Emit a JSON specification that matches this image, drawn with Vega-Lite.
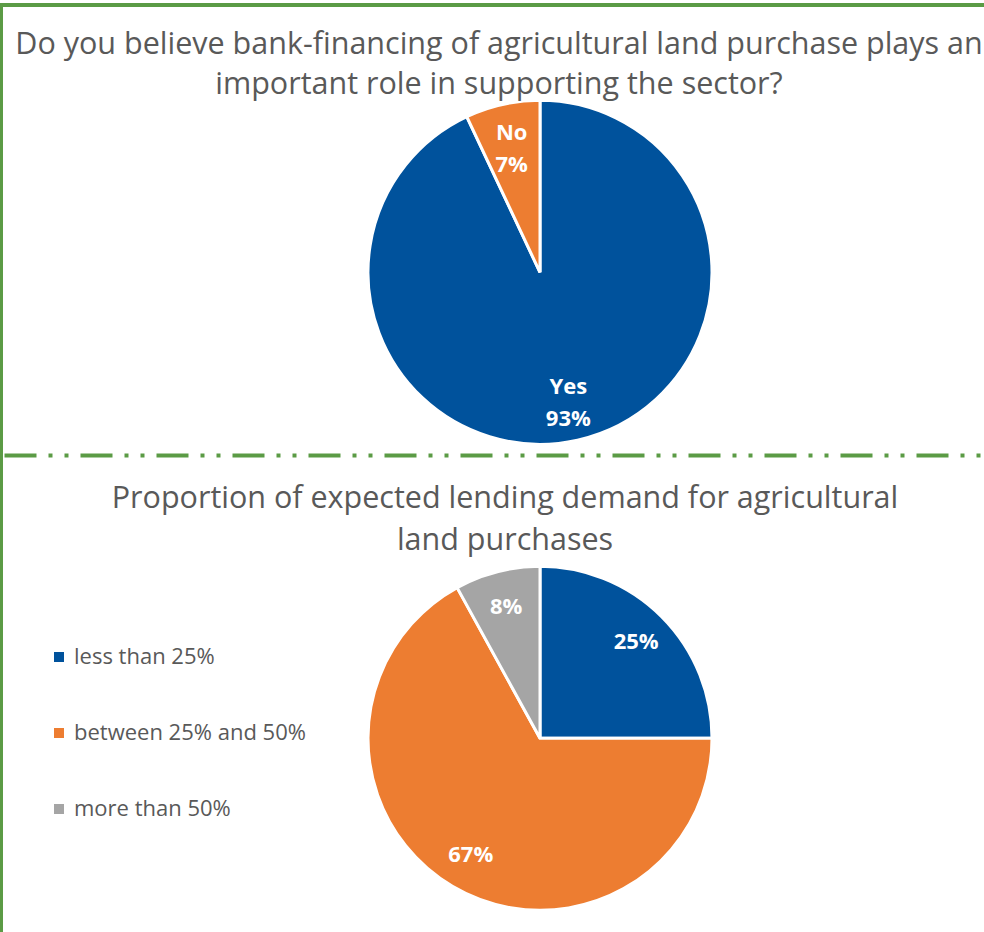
{
  "$schema": "https://vega.github.io/schema/vega-lite/v6.json",
  "width": 1078,
  "height": 960,
  "autosize": {"type": "none"},
  "padding": {"left": 1, "top": 5, "right": 0, "bottom": 0},
  "background": "white",
  "config": {
    "font": "Open Sans",
    "view": {"stroke": "#5B9B45", "strokeWidth": 4}
  },
  "layer": [
    {
      "data": {
        "values": [
          {"question": "Q1", "answer": "Yes", "value": 93, "rank": 1, "label": ["Yes", "93%"]},
          {"question": "Q1", "answer": "No", "value": 7, "rank": 2, "label": ["No", "7%"]},
          {"question": "Q2", "answer": "less than 25%", "value": 25, "rank": 1, "label": "25%"},
          {"question": "Q2", "answer": "between 25% and 50%", "value": 67, "rank": 2, "label": "67%"},
          {"question": "Q2", "answer": "more than 50%", "value": 8, "rank": 3, "label": "8%"}
        ]
      },
      "encoding": {
        "theta": {"field": "value", "type": "quantitative", "stack": true},
        "order": {"field": "rank", "type": "quantitative"},
        "y": {
          "field": "question",
          "type": "nominal",
          "bandPosition": 0.608,
          "scale": {"type": "band", "domain": ["Q1", "Q2"], "range": [-16, 916], "paddingInner": 0, "paddingOuter": 0},
          "axis": {
            "title": null,
            "labels": false,
            "ticks": false,
            "domain": false,
            "grid": true,
            "bandPosition": 0,
            "gridColor": "#5B9B45",
            "gridWidth": 4,
            "gridOpacity": 1,
            "gridDash": [32, 12, 4, 12, 4, 12],
            "gridDashOffset": 73
          }
        }
      },
      "layer": [
        {
          "mark": {"type": "arc", "stroke": "white", "strokeWidth": 3},
          "encoding": {
            "radius": {"field": "question", "type": "nominal", "scale": {"type": "point", "domain": ["Q1", "Q2"], "range": [172, 172]}},
            "radius2": {"value": 0},
            "color": {
              "field": "answer",
              "type": "nominal",
              "scale": {
                "domain": ["Yes", "No", "less than 25%", "between 25% and 50%", "more than 50%"],
                "range": ["#00529C", "#ED7D31", "#00529C", "#ED7D31", "#A5A5A5"]
              },
              "legend": {
                "title": null,
                "orient": "none",
                "legendX": 47,
                "legendY": 641,
                "values": ["less than 25%", "between 25% and 50%", "more than 50%"],
                "labelFont": "Open Sans",
                "labelFontSize": 22,
                "labelColor": "#595959",
                "labelLimit": 400,
                "symbolType": "square",
                "symbolSize": 100,
                "symbolStrokeWidth": 0,
                "rowPadding": 54,
                "labelOffset": 4
              }
            }
          }
        },
        {
          "transform": [{"filter": "datum.question === 'Q1'"}],
          "mark": {"type": "text", "color": "white", "fontWeight": "bold", "fontSize": 22, "lineHeight": 32, "baseline": "middle", "align": "center", "dy": -12},
          "encoding": {
            "radius": {"field": "question", "type": "nominal", "scale": {"type": "point", "domain": ["Q1", "Q2"], "range": [130, 130]}},
            "text": {"field": "label"}
          }
        },
        {
          "transform": [{"filter": "datum.question === 'Q2'"}],
          "mark": {"type": "text", "color": "white", "fontWeight": "bold", "fontSize": 22, "baseline": "middle", "align": "center"},
          "encoding": {
            "radius": {"field": "question", "type": "nominal", "scale": {"type": "point", "domain": ["Q1", "Q2"], "range": [136, 136]}},
            "text": {"field": "label"}
          }
        }
      ],
      "resolve": {"scale": {"radius": "independent"}}
    },
    {
      "data": {"values": [{"question": "Q1", "title": ["Do you believe bank-financing of agricultural land purchase plays an", "important role in supporting the sector?"]}]},
      "mark": {"type": "text", "fontSize": 30.5, "color": "#595959", "lineHeight": 40, "baseline": "alphabetic", "align": "center", "dx": -41, "dy": 65},
      "encoding": {
        "y": {"field": "question", "type": "nominal", "bandPosition": 0},
        "text": {"field": "title"}
      }
    },
    {
      "data": {"values": [{"question": "Q2", "title": ["Proportion of expected lending demand for agricultural", "land purchases"]}]},
      "mark": {"type": "text", "fontSize": 30.5, "color": "#595959", "lineHeight": 42, "baseline": "alphabetic", "align": "center", "dx": -35, "dy": 53},
      "encoding": {
        "y": {"field": "question", "type": "nominal", "bandPosition": 0},
        "text": {"field": "title"}
      }
    }
  ]
}
